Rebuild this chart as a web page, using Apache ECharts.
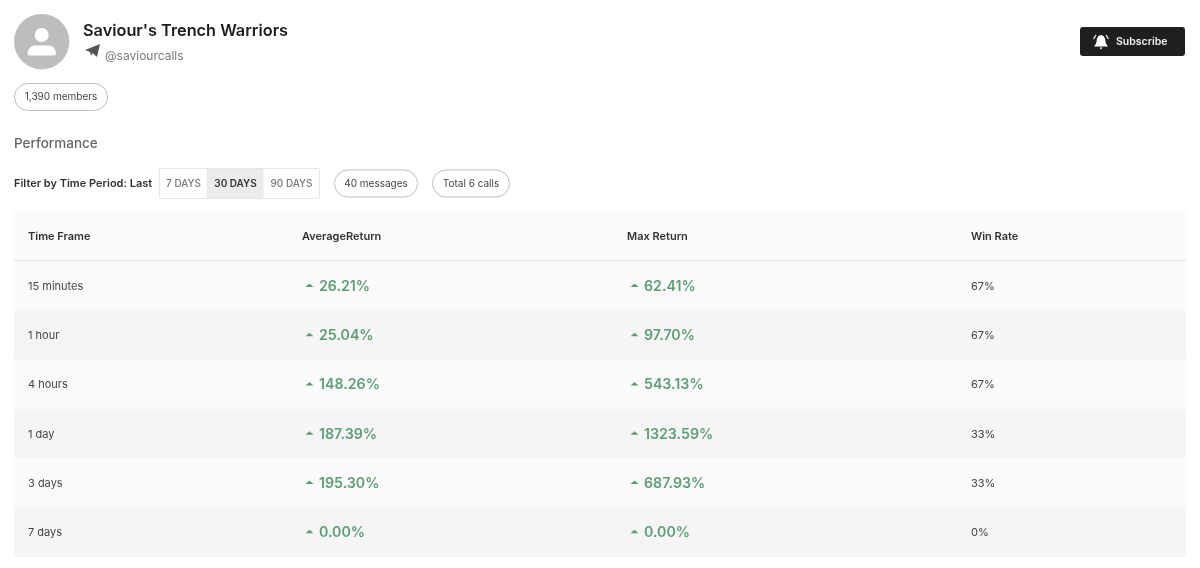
<!DOCTYPE html>
<html>
<head>
<meta charset="utf-8">
<title>Saviour's Trench Warriors</title>
<script src="https://cdn.jsdelivr.net/npm/echarts@6/dist/echarts.min.js"></script>
<style>
    html, body { margin: 0; padding: 0; background: #fff; }
    #chart { width: 1200px; height: 568px; }
</style>
</head>
<body>
<div id="chart"></div>
<script>
    // table data
    var headers = ['Time Frame', 'AverageReturn', 'Max Return', 'Win Rate'];
    var timeFrames = ['15 minutes', '1 hour', '4 hours', '1 day', '3 days', '7 days'];
    var averageReturn = [26.21, 25.04, 148.26, 187.39, 195.30, 0.00];
    var maxReturn = [62.41, 97.70, 543.13, 1323.59, 687.93, 0.00];
    var winRate = [67, 67, 67, 33, 33, 0];
    var periods = ['7 DAYS', '30 DAYS', '90 DAYS'];

    var FONT = 'Inter, "Noto Sans", sans-serif';
    var GREEN = '#5c9e74';
    var rowNames = ['header'].concat(timeFrames);

    function text(x, y, str, size, weight, color, align) {
        return {
            type: 'text',
            x: x, y: y,
            silent: true,
            style: {
                text: str, fontFamily: FONT, fontSize: size, fontWeight: weight,
                fill: color, align: align || 'left', verticalAlign: 'middle'
            }
        };
    }

    function pill(x, y, w, h, str) {
        return [
            {
                type: 'rect',
                shape: { x: x, y: y, width: w, height: h, r: h / 2 },
                style: { fill: '#fff', stroke: '#bdbdbd', lineWidth: 1 }
            },
            text(x + w / 2, y + h / 2, str, 10, 400, '#444', 'center')
        ];
    }

    // header, chips and icons around the table
    var chrome = [
        // avatar
        { type: 'circle', shape: { cx: 41.7, cy: 41.7, r: 27.7 }, style: { fill: '#bdbdbd' } },
        { type: 'circle', shape: { cx: 41.7, cy: 35, r: 7 }, style: { fill: '#fff' } },
        { type: 'rect', shape: { x: 27.5, y: 45.5, width: 28.5, height: 10, r: [10, 10, 3, 3] }, style: { fill: '#fff' } },
        text(83, 31, "Saviour's Trench Warriors", 16.3, 600, '#1c1c1c'),
        // telegram plane
        { type: 'polygon', shape: { points: [[85, 50], [100, 44], [97, 57], [92.5, 53], [91, 56], [90, 52]] }, style: { fill: '#555' } },
        text(105, 56, '@saviourcalls', 12, 400, '#7a7a7a'),
        // subscribe button
        { type: 'rect', shape: { x: 1080, y: 27, width: 105, height: 29, r: 3 }, style: { fill: '#1f1f1f' } },
        { type: 'polygon', shape: { points: [[1101, 35], [1103.5, 36], [1105, 38.5], [1105.5, 42], [1106.5, 44.5], [1108, 46.5], [1094, 46.5], [1095.5, 44.5], [1096.5, 42], [1097, 38.5], [1098.5, 36]] }, style: { fill: '#fff' } },
        { type: 'polygon', shape: { points: [[1099.5, 47.5], [1102.5, 47.5], [1101, 49.5]] }, style: { fill: '#fff' } },
        { type: 'line', shape: { x1: 1096, y1: 35, x2: 1093.5, y2: 39 }, style: { stroke: '#fff', lineWidth: 1.2 } },
        { type: 'line', shape: { x1: 1106, y1: 35, x2: 1108.5, y2: 39 }, style: { stroke: '#fff', lineWidth: 1.2 } },
        text(1116, 42, 'Subscribe', 10.5, 600, '#f0f0f0'),
        text(14, 143.5, 'Performance', 13.5, 500, '#666'),
        text(14, 184, 'Filter by Time Period: Last', 11, 600, '#333'),
        // period buttons
        { type: 'rect', shape: { x: 207.5, y: 168.5, width: 56, height: 30 }, style: { fill: '#ececec' } },
        { type: 'rect', shape: { x: 159.5, y: 168.5, width: 160, height: 30, r: 1 }, style: { fill: 'transparent', stroke: '#e6e6e6', lineWidth: 1 } },
        { type: 'line', shape: { x1: 207.5, y1: 168.5, x2: 207.5, y2: 198.5 }, style: { stroke: '#e6e6e6' } },
        text(183.5, 184, periods[0], 10, 500, '#777', 'center'),
        text(235.5, 184, periods[1], 10, 600, '#333', 'center'),
        text(291.5, 184, periods[2], 10, 500, '#777', 'center')
    ].concat(
        pill(14.5, 83.5, 93, 27, '1,390 members'),
        pill(334.5, 170, 83, 27, '40 messages'),
        pill(432.5, 170, 77, 27, 'Total 6 calls')
    );

    var COL_X = [14, 288, 613, 957];

    function renderRow(params, api) {
        var idx = api.value(0);
        var p = api.coord([0, idx]);
        var band = api.size([0, 1])[1];
        var left = p[0];
        var cy = p[1];
        var width = api.coord([1172, idx])[0] - left;
        var kids = [{
            type: 'rect',
            shape: { x: left, y: cy - band / 2, width: width, height: band },
            style: { fill: idx % 2 === 0 ? '#f5f5f5' : '#fafafa' }
        }];
        if (idx === 0) {
            kids[0].style.fill = '#fafafa';
            headers.forEach(function (h, i) {
                kids.push(text(left + COL_X[i], cy, h, 11, 600, '#333'));
            });
            kids.push({
                type: 'rect',
                shape: { x: left, y: cy + band / 2 - 1.5, width: width, height: 2 },
                style: { fill: '#e6e6e6' }
            });
        } else {
            var r = idx - 1;
            kids.push(text(left + COL_X[0], cy + 0.5, timeFrames[r], 11, 400, '#444'));
            [[1, averageReturn[r]], [2, maxReturn[r]]].forEach(function (c) {
                var x = left + COL_X[c[0]];
                kids.push({
                    type: 'polygon',
                    shape: { points: [[x + 3.5, cy + 1], [x + 7.5, cy - 2.5], [x + 11.5, cy + 1]] },
                    style: { fill: GREEN }
                });
                kids.push(text(x + 17, cy + 0.5, c[1].toFixed(2) + '%', 14.2, 600, GREEN));
            });
            kids.push(text(left + COL_X[3], cy + 0.5, winRate[r] + '%', 11, 400, '#444'));
        }
        return { type: 'group', children: kids };
    }

    var chart = echarts.init(document.getElementById('chart'));
    var option = {
        animation: false,
        backgroundColor: '#fff',
        grid: { left: 14, right: 14, top: 212, bottom: 11 },
        xAxis: { type: 'value', min: 0, max: 1172, show: false },
        yAxis: { type: 'category', data: rowNames, inverse: true, show: false },
        graphic: { elements: chrome },
        series: [{
            type: 'custom',
            renderItem: renderRow,
            encode: { y: 0 },
            data: rowNames.map(function (n, i) { return [i]; })
        }]
    };
    chart.setOption(option);
</script>
</body>
</html>
